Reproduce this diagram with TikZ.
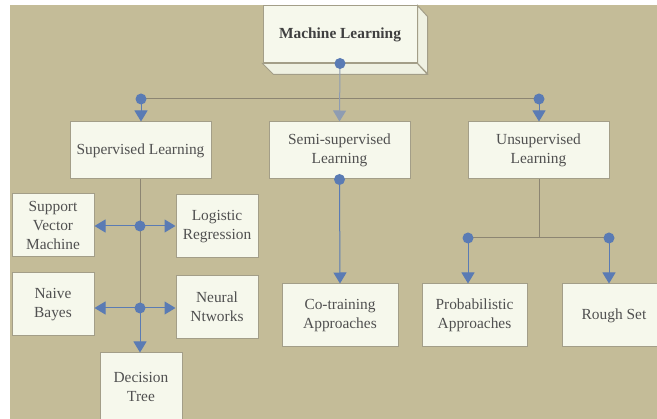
\documentclass[tikz,border=0pt]{standalone}
\usepackage{fontspec}
\setmainfont{Liberation Serif}
\usetikzlibrary{
	arrows.meta,
	positioning,
}
\definecolor{bg}{HTML}{C4BC98}
\definecolor{boxfill}{HTML}{F6F8EC}
\definecolor{sidefill}{HTML}{EFF1E2}
\definecolor{boxline}{HTML}{A39E88}
\definecolor{dotblue}{HTML}{5A7BB4}
\definecolor{linegray}{HTML}{8C8572}
\definecolor{shaft}{HTML}{8E9CB2}
\definecolor{txt}{HTML}{505050}
\tikzset{box/.style={draw=boxline,fill=boxfill,line width=1pt,text=txt,align=center,inner sep=0pt,font=\fontsize{15.4}{19}\selectfont,}}
\tikzset{wide/.style={box,minimum width=141pt,minimum height=57pt,}}
\tikzset{small/.style={box,minimum width=82pt,minimum height=63pt,}}
\tikzset{low/.style={box,minimum height=63pt,}}
\tikzset{dot/.style={circle,fill=dotblue,inner sep=0pt,minimum size=11pt,}}
\tikzset{arr/.style={dotblue,line width=1pt,-{Triangle[width=13pt,length=11pt]},}}
\tikzset{plain/.style={linegray,line width=1pt,}}
\tikzset{
	x=1pt,
	y=-1pt,
}

\begin{document}
\begin{tikzpicture}
\useasboundingbox (0,0) rectangle (657,419);
\clip (0,0) rectangle (657,419);
\fill[bg] (10,5) rectangle (657,419);

\node[box,minimum width=154pt,minimum height=57pt,font=\fontsize{15.4}{19}\selectfont\bfseries,text=black!75](ml) at(340,34.5) {Machine Learning};
\filldraw[draw=boxline,fill=sidefill,line width=1pt] (ml.north east) -- ++(10,11) -- ++(0,57) -- (ml.south east) -- cycle;
\filldraw[draw=boxline,fill=sidefill,line width=1pt] (ml.south west) -- (ml.south east) -- ++(10,11) -- ++(-154,0) -- cycle;

\node[wide](sup) at(140.5,150.5) {Supervised Learning};
\node[wide](semi) at(339.5,150.5) {Semi-supervised\\Learning};
\node[wide](unsup) at(538.5,150.5) {Unsupervised\\Learning};

\node[small](svm) at(53,225.5) {Support\\Vector\\Machine};
\node[small](logit) at(217,226.5) {Logistic\\Regression};
\node[small](bayes) at(53,304.5) {Naive\\Bayes};
\node[small](nn) at(217,307) {Neural\\Ntworks};
\node[small,minimum height=68pt](tree) at(141,387) {Decision\\Tree};

\node[low,minimum width=116pt](cotrain) at(340,315.5) {Co-training\\Approaches};
\node[low,minimum width=105pt](prob) at(474.5,315.5) {Probabilistic\\Approaches};
\node[low,minimum width=104pt](rough) at(614,315.5) {Rough Set};

\coordinate(top) at(ml.south);
\coordinate(left) at(141,99);
\coordinate(right) at(539,99);
\coordinate(mid) at(semi.south);
\coordinate(s1) at(140,226);
\coordinate(s2) at(140,308);
\coordinate(join) at(539,238);
\coordinate(u1) at(468,238);
\coordinate(u2) at(609,238);

\draw[plain] (left) -- (right);
\draw[arr,shaft] (top) -- (semi.north);
\draw[arr] (left) -- (left |- sup.north);
\draw[arr] (right) -- (right |- unsup.north);
\draw[arr] (mid) -- (cotrain.north);

\draw[plain] (sup.south -| s1) -- (s2);
\draw[arr] (s1) -- (s1 -| svm.east);
\draw[arr] (s1) -- (s1 -| logit.west);
\draw[arr] (s2) -- (s2 -| bayes.east);
\draw[arr] (s2) -- (s2 -| nn.west);
\draw[arr] (s2) -- (s2 |- tree.north);

\draw[plain] (unsup.south -| join) -- (join);
\draw[plain] (u1) -- (u2);
\draw[arr] (u1) -- (u1 |- prob.north);
\draw[arr] (u2) -- (u2 |- rough.north);

\foreach \c in {top,left,right,mid,s1,s2,u1,u2}
	\node[dot](dot-\c) at(\c) {};

\end{tikzpicture}
\end{document}
